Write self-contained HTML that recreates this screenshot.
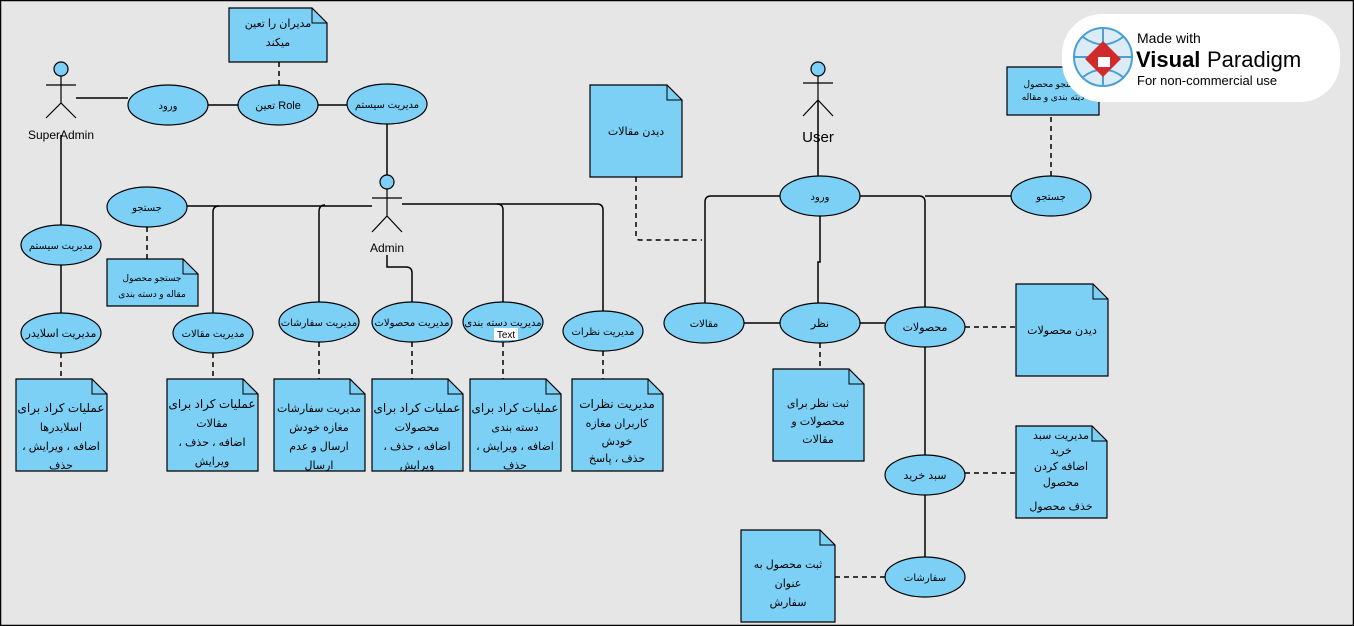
<!DOCTYPE html>
<html><head><meta charset="utf-8"><style>
html,body{margin:0;padding:0;background:#e6e6e6}
svg{display:block}
text{font-family:"Liberation Sans","DejaVu Sans",sans-serif;fill:#000}
.r text{direction:rtl;unicode-bidi:embed}
</style></head><body>
<svg width="1354" height="626" viewBox="0 0 1354 626" xmlns="http://www.w3.org/2000/svg">
<rect x="0.5" y="0.5" width="1353" height="625" fill="#e6e6e6" stroke="#000" stroke-width="1.5"/>
<g stroke="#000" stroke-width="1.5" fill="none">
<path d="M76 98H128"/><path d="M208 105H238"/><path d="M318 105H347"/>
<path d="M387 124V175"/>
<path d="M61 135V225"/><path d="M61 265V313"/>
<path d="M187 206H372"/>
<path d="M213 313V212Q213 206 219 206"/>
<path d="M319 302V212Q319 205 325 205"/>
<path d="M402 204H597Q603 204 603 210V311"/>
<path d="M497 204Q503 204 503 210V302"/>
<path d="M387 255V267H406Q412 267 412 273V302"/>
<path d="M818 100V176"/>
<path d="M780 196H711Q705 196 705 202V303"/>
<path d="M860 196H919Q925 196 925 202V307"/>
<path d="M925 196H1011"/>
<path d="M820 216V262H818V303"/>
<path d="M744 323H780"/><path d="M860 323H885"/>
<path d="M925 347V455"/><path d="M925 495V557"/>
</g>
<g stroke="#000" stroke-width="1.5" fill="none" stroke-dasharray="5,4">
<path d="M279 62V86"/><path d="M147 227V259"/>
<path d="M61 353V379"/><path d="M213 353V379"/><path d="M319 342V379"/><path d="M412 342V379"/><path d="M503 342V379"/><path d="M603 351V379"/>
<path d="M636 177V236Q636 240 640 240H702"/>
<path d="M820 343V369"/><path d="M965 327H1016"/><path d="M965 473H1016"/><path d="M885 577H835"/><path d="M1051 176V115"/>
</g>
<g stroke="#000" stroke-width="1.2" fill="none">
<circle cx="61" cy="69" r="7" fill="#7ccff5"/><path d="M61 76V103M46 85H76M46 118L61 103L76 118"/>
<circle cx="387" cy="182" r="7" fill="#7ccff5"/><path d="M387 189V216M372 198H402M372 232L387 216L402 232"/>
<circle cx="818" cy="69" r="7" fill="#7ccff5"/><path d="M818 76V100M803 83H833M803 116L818 100L833 116"/>
</g>
<text x="61" y="139" font-size="12" text-anchor="middle">SuperAdmin</text>
<text x="387" y="252" font-size="12" text-anchor="middle">Admin</text>
<text x="818" y="142" font-size="15" text-anchor="middle">User</text>
<g fill="#7ccff5" stroke="#000" stroke-width="1.2">
<ellipse cx="168" cy="105" rx="40" ry="20"/><ellipse cx="278" cy="105" rx="40" ry="20"/><ellipse cx="387" cy="104" rx="40" ry="20"/>
<ellipse cx="147" cy="207" rx="40" ry="20"/><ellipse cx="61" cy="245" rx="40" ry="20"/>
<ellipse cx="61" cy="333" rx="40" ry="20"/><ellipse cx="213" cy="333" rx="40" ry="20"/><ellipse cx="319" cy="322" rx="40" ry="20"/>
<ellipse cx="412" cy="322" rx="40" ry="20"/><ellipse cx="503" cy="322" rx="40" ry="20"/><ellipse cx="603" cy="331" rx="40" ry="20"/>
<ellipse cx="820" cy="196" rx="40" ry="20"/><ellipse cx="1051" cy="196" rx="40" ry="20"/>
<ellipse cx="704" cy="323" rx="40" ry="20"/><ellipse cx="820" cy="323" rx="40" ry="20"/><ellipse cx="925" cy="327" rx="40" ry="20"/>
<ellipse cx="925" cy="475" rx="40" ry="20"/><ellipse cx="925" cy="577" rx="40" ry="20"/>
</g>
<g class="r" font-size="10" text-anchor="middle">
<text x="168" y="109">ورود</text><text x="278" y="109" font-size="11">Role تعین</text><text x="387" y="108">مدیریت سیستم</text>
<text x="147" y="211">جستجو</text><text x="61" y="249">مدیریت سیستم</text>
<text x="61" y="337" font-size="11">مدیریت اسلایدر</text><text x="213" y="337">مدیریت مقالات</text><text x="319" y="326">مدیریت سفارشات</text>
<text x="412" y="326">مدیریت محصولات</text><text x="503" y="326">مدیریت دسته بندی</text><text x="603" y="335">مدیریت نظرات</text>
<text x="820" y="200">ورود</text><text x="1051" y="200">جستجو</text><text x="704" y="327">مقالات</text><text x="820" y="327" font-size="11">نظر</text>
<text x="925" y="331" font-size="11">محصولات</text><text x="925" y="479" font-size="11">سبد خرید</text><text x="925" y="581">سفارشات</text>
</g>
<rect x="494" y="328" width="24" height="12" fill="#fff"/><text x="506" y="338" font-size="10" text-anchor="middle">Text</text>
<g fill="#7ccff5" stroke="#000" stroke-width="1.2">
<path d="M229 8H312L327 23V62H229Z"/>
<path d="M107 259H183L198 274V306H107Z"/>
<path d="M16 379H92L107 394V471H16Z"/>
<path d="M167 379H243L258 394V471H167Z"/>
<path d="M274 379H350L365 394V471H274Z"/>
<path d="M372 379H448L463 394V471H372Z"/>
<path d="M470 379H546L561 394V471H470Z"/>
<path d="M572 379H648L663 394V471H572Z"/>
<path d="M590 85H667L682 100V177H590Z"/>
<path d="M1007 67H1099V115H1007Z"/>
<path d="M1016 284H1093L1108 299V376H1016Z"/>
<path d="M773 369H849L864 384V461H773Z"/>
<path d="M1016 426H1092L1107 441V518H1016Z"/>
<path d="M741 530H820L835 545V622H741Z"/>
</g>
<g fill="none" stroke="#000" stroke-width="1"><path d="M312 8V23H327M183 259V274H198M92 379V394H107M243 379V394H258M350 379V394H365M448 379V394H463M546 379V394H561M648 379V394H663M667 85V100H682M1093 284V299H1108M849 369V384H864M1092 426V441H1107M820 530V545H835"/></g>
<g class="r" text-anchor="middle" font-size="11">
<text x="278" y="27">مدیران را تعین</text><text x="278" y="46">میکند</text>
<text x="152" y="281" font-size="9">جستجو محصول</text><text x="152" y="297" font-size="9">مقاله و دسته بندی</text>
<text x="61" y="412" font-size="12">عملیات کراد برای</text><text x="61" y="431">اسلایدرها</text><text x="61" y="450">اضافه ، ویرایش ،</text><text x="61" y="469">حذف</text>
<text x="212" y="408" font-size="12">عملیات کراد برای</text><text x="212" y="427">مقالات</text><text x="212" y="446">اضافه ، حذف ،</text><text x="212" y="465">ویرایش</text>
<text x="319" y="412">مدیریت سفارشات</text><text x="319" y="431">مغازه خودش</text><text x="319" y="450">ارسال و عدم</text><text x="319" y="469">ارسال</text>
<text x="417" y="412" font-size="12">عملیات کراد برای</text><text x="417" y="431">محصولات</text><text x="417" y="450">اضافه ، حذف ،</text><text x="417" y="469">ویرایش</text>
<text x="515" y="412" font-size="12">عملیات کراد برای</text><text x="515" y="431">دسته بندی</text><text x="515" y="450">اضافه ، ویرایش ،</text><text x="515" y="469">حذف</text>
<text x="617" y="408" font-size="12">مدیریت نظرات</text><text x="617" y="427">کاربران مغازه</text><text x="617" y="445">خودش</text><text x="617" y="462">حذف ، پاسخ</text>
<text x="636" y="135">دیدن مقالات</text>
<text x="1053" y="87" font-size="9">جستجو محصول</text><text x="1053" y="100" font-size="9">دیته بندی و مقاله</text>
<text x="1062" y="334">دیدن محصولات</text>
<text x="818" y="407">ثبت نظر برای</text><text x="818" y="425">محصولات و</text><text x="818" y="443">مقالات</text>
<text x="1061" y="439">مدیریت سبد</text><text x="1061" y="454">خرید</text><text x="1061" y="470">اضافه کردن</text><text x="1061" y="486">محصول</text><text x="1061" y="510">خذف محصول</text>
<text x="788" y="568">ثبت محصول به</text><text x="788" y="587">عنوان</text><text x="788" y="606">سفارش</text>
</g>
<rect x="1062" y="14" width="278" height="88" rx="40" fill="#fff"/>
<g transform="translate(1103,57)">
<circle r="29" fill="#dcecf7" stroke="#4a9fd4" stroke-width="2"/>
<path d="M-29 0H29M0 -29V29M-20 -20Q0 -5 20 -20M-20 20Q0 5 20 20" stroke="#4a9fd4" stroke-width="2" fill="none"/>
<path d="M0 -16L18 2L0 20L-18 2Z" fill="#d02a2a"/>
<path d="M-5 0H7V10H-5Z" fill="#fff"/>
</g>
<text x="1137" y="43" font-size="14" fill="#555">Made with</text>
<text x="1136" y="67" font-size="22" font-weight="bold" fill="#333">Visual</text><text x="1207" y="67" font-size="22" fill="#333">Paradigm</text>
<text x="1137" y="85" font-size="13" fill="#666">For non-commercial use</text>
</svg>
</body></html>
